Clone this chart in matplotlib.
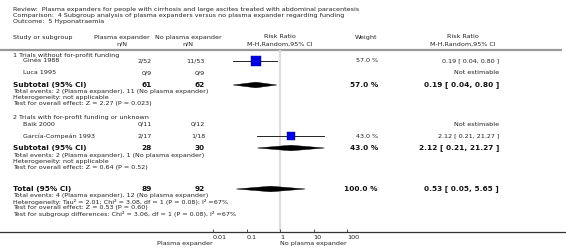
import matplotlib
matplotlib.use("Agg")
import matplotlib.pyplot as plt
from matplotlib.patches import Polygon

# ---- data ----
studies = ["Ginés 1988", "Luca 1995", "Baik 2000", "García-Compeán 1993"]
study_group = [1, 1, 2, 2]
pe_nN = ["2/52", "0/9", "0/11", "2/17"]
npe_nN = ["11/53", "0/9", "0/12", "1/18"]
study_weight = [57.0, None, None, 43.0]
study_rr = [0.19, None, None, 2.12]
study_lo = [0.04, None, None, 0.21]
study_hi = [0.80, None, None, 21.27]

group_titles = ["1 Trials without for-profit funding",
                "2 Trials with for-profit funding or unknown"]
sub_pe_n = [61, 28]
sub_npe_n = [62, 30]
sub_weight = [57.0, 43.0]
sub_rr = [0.19, 2.12]
sub_lo = [0.04, 0.21]
sub_hi = [0.80, 21.27]
sub_stats = [
    ["Total events: 2 (Plasma expander), 11 (No plasma expander)",
     "Heterogeneity: not applicable",
     "Test for overall effect: Z = 2.27 (P = 0.023)"],
    ["Total events: 2 (Plasma expander), 1 (No plasma expander)",
     "Heterogeneity: not applicable",
     "Test for overall effect: Z = 0.64 (P = 0.52)"],
]

total_pe_n = 89
total_npe_n = 92
total_weight = 100.0
total_rr = 0.53
total_lo = 0.05
total_hi = 5.65
total_stats = [
    "Total events: 4 (Plasma expander), 12 (No plasma expander)",
    "Heterogeneity: Tau² = 2.01; Chi² = 3.08, df = 1 (P = 0.08); I² =67%",
    "Test for overall effect: Z = 0.53 (P = 0.60)",
    "Test for subgroup differences: Chi² = 3.06, df = 1 (P = 0.08), I² =67%",
]

ticks = [0.01, 0.1, 1, 10, 100]
tick_labels = ["0.01", "0.1", "1", "10", "100"]

header = [
    "Review:  Plasma expanders for people with cirrhosis and large ascites treated with abdominal paracentesis",
    "Comparison:  4 Subgroup analysis of plasma expanders versus no plasma expander regarding funding",
    "Outcome:  5 Hyponatraemia",
]

# ---- layout (pixel rows / columns) ----
W, H = 566, 248
FS = 4.55
FSB = 5.35
X_STUDY = 13
X_NAME = 23
X_PE = 152
X_NPE = 205
X_W = 378
X_RR = 499

study_rows = [61, 73, 124, 136]
title_rows = [55, 118]
sub_rows = [85, 148]
sub_stat_rows = [[92, 98, 104], [155, 161, 167]]
total_row = 189
total_stat_rows = [196, 202, 208, 214]

fig = plt.figure(figsize=(W / 100, H / 100), dpi=100)
ax = fig.add_axes([0, 0, 1, 1])
ax.set_xlim(0, W)
ax.set_ylim(H, 0)
ax.axis("off")

txt = dict(fontsize=FS, va="center", color="#222222")
bld = dict(fontsize=FSB, va="center", fontweight="bold", color="#111111")

for i, line in enumerate(header):
    ax.text(X_STUDY, 9 + i * 6.3, line, ha="left", **txt)

ax.text(X_STUDY, 37, "Study or subgroup", ha="left", **txt)
ax.text(122, 37, "Plasma expander", ha="center", **txt)
ax.text(122, 44, "n/N", ha="center", **txt)
ax.text(188, 37, "No plasma expander", ha="center", **txt)
ax.text(188, 44, "n/N", ha="center", **txt)
ax.text(280, 37, "Risk Ratio", ha="center", **txt)
ax.text(280, 44, "M-H,Random,95% CI", ha="center", **txt)
ax.text(X_W - 1, 37, "Weight", ha="right", **txt)
ax.text(463, 37, "Risk Ratio", ha="center", **txt)
ax.text(463, 44, "M-H,Random,95% CI", ha="center", **txt)
ax.plot([0, 562], [49.5, 49.5], color="#9a9a9a", lw=1.6, solid_capstyle="butt")

for g, title in enumerate(group_titles):
    ax.text(X_STUDY, title_rows[g], title, ha="left", **txt)

for i, name in enumerate(studies):
    y = study_rows[i]
    ax.text(X_NAME, y, name, ha="left", **txt)
    ax.text(X_PE, y, pe_nN[i], ha="right", **txt)
    ax.text(X_NPE, y, npe_nN[i], ha="right", **txt)
    if study_rr[i] is None:
        ax.text(X_RR, y, "Not estimable", ha="right", **txt)
    else:
        ax.text(X_W, y, f"{study_weight[i]:.1f} %", ha="right", **txt)
        ax.text(X_RR, y, f"{study_rr[i]:.2f} [ {study_lo[i]:.2f}, {study_hi[i]:.2f} ]",
                ha="right", **txt)

for g in range(2):
    y = sub_rows[g]
    ax.text(X_STUDY, y, "Subtotal (95% CI)", ha="left", **bld)
    ax.text(X_PE, y, str(sub_pe_n[g]), ha="right", **bld)
    ax.text(X_NPE, y, str(sub_npe_n[g]), ha="right", **bld)
    ax.text(X_W, y, f"{sub_weight[g]:.1f} %", ha="right", **bld)
    ax.text(X_RR, y, f"{sub_rr[g]:.2f} [ {sub_lo[g]:.2f}, {sub_hi[g]:.2f} ]", ha="right", **bld)
    for line, yy in zip(sub_stats[g], sub_stat_rows[g]):
        ax.text(X_STUDY, yy, line, ha="left", **txt)

ax.text(X_STUDY, total_row, "Total (95% CI)", ha="left", **bld)
ax.text(X_PE, total_row, str(total_pe_n), ha="right", **bld)
ax.text(X_NPE, total_row, str(total_npe_n), ha="right", **bld)
ax.text(X_W, total_row, f"{total_weight:.1f} %", ha="right", **bld)
ax.text(X_RR, total_row, f"{total_rr:.2f} [ {total_lo:.2f}, {total_hi:.2f} ]", ha="right", **bld)
for line, yy in zip(total_stats, total_stat_rows):
    ax.text(X_STUDY, yy, line, ha="left", **txt)

# bottom axis line across the whole width
AX_Y = 231.5
ax.plot([0, W], [AX_Y, AX_Y], color="#333333", lw=0.9)
ax.text(213, 243, "Plasma expander", ha="right", **txt)
ax.text(280, 243, "No plasma expander", ha="left", **txt)

# ---- forest panel ----
x0, x1, y_top = 213, 347, 50
fx = fig.add_axes([x0 / W, 1 - AX_Y / H, (x1 - x0) / W, (AX_Y - y_top) / H])
fx.patch.set_alpha(0)
fx.set_xscale("log")
fx.set_xlim(0.01, 100)
fx.set_ylim(AX_Y, y_top)
for s in fx.spines.values():
    s.set_visible(False)
fx.set_yticks([])
fx.set_xticks(ticks)
fx.set_xticklabels(tick_labels, ha="left")
fx.minorticks_off()
fx.tick_params(axis="x", direction="in", length=2.5, width=0.6, color="#333333",
               labelsize=FS, pad=2.2, labelcolor="#222222")
fx.axvline(1, color="#dedede", lw=1.6, zorder=0)

for i in range(len(studies)):
    if study_rr[i] is None:
        continue
    y = study_rows[i]
    fx.plot([study_lo[i], study_hi[i]], [y, y], color="black", lw=0.6, zorder=2)
    fx.plot([study_rr[i]], [y], marker="s", color="#0000dd", mec="#0000aa", mew=0.3,
            ms=0.95 * study_weight[i] ** 0.5, zorder=3)


def diamond(est, lo, hi, y, h=2.8):
    fx.add_patch(Polygon([(lo, y), (est, y - h), (hi, y), (est, y + h)],
                         closed=True, facecolor="black", edgecolor="black", lw=0.3, zorder=3))


for g in range(2):
    diamond(sub_rr[g], sub_lo[g], sub_hi[g], sub_rows[g])
diamond(total_rr, total_lo, total_hi, total_row)

fig.savefig("out.png", dpi=100)
